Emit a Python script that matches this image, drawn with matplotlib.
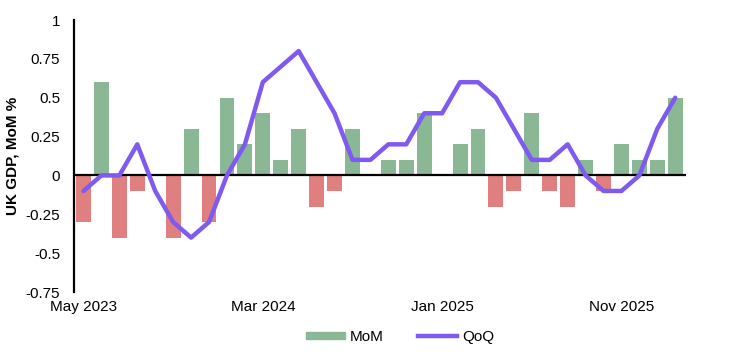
import matplotlib
matplotlib.use("Agg")
import matplotlib.pyplot as plt
import numpy as np
from matplotlib.lines import Line2D
from matplotlib.patches import Patch

plt.rcParams['font.family'] = ['Liberation Sans', 'DejaVu Sans']

months = ["May 2023", "Jun 2023", "Jul 2023", "Aug 2023", "Sep 2023", "Oct 2023",
          "Nov 2023", "Dec 2023", "Jan 2024", "Feb 2024", "Mar 2024", "Apr 2024",
          "May 2024", "Jun 2024", "Jul 2024", "Aug 2024", "Sep 2024", "Oct 2024",
          "Nov 2024", "Dec 2024", "Jan 2025", "Feb 2025", "Mar 2025", "Apr 2025",
          "May 2025", "Jun 2025", "Jul 2025", "Aug 2025", "Sep 2025", "Oct 2025",
          "Nov 2025", "Dec 2025", "Jan 2026", "Feb 2026"]
mom = [-0.3, 0.6, -0.4, -0.1, 0.0, -0.4, 0.3, -0.3, 0.5, 0.2,
       0.4, 0.1, 0.3, -0.2, -0.1, 0.3, 0.0, 0.1, 0.1, 0.4,
       0.0, 0.2, 0.3, -0.2, -0.1, 0.4, -0.1, -0.2, 0.1, -0.1,
       0.2, 0.1, 0.1, 0.5]
qoq = [-0.1, 0.0, 0.0, 0.2, -0.1, -0.3, -0.4, -0.3, 0.0, 0.2,
       0.6, 0.7, 0.8, 0.6, 0.4, 0.1, 0.1, 0.2, 0.2, 0.4,
       0.4, 0.6, 0.6, 0.5, 0.3, 0.1, 0.1, 0.2, 0.0, -0.1,
       -0.1, 0.0, 0.3, 0.5]
tick_labels = ["May 2023", "Mar 2024", "Jan 2025", "Nov 2025"]
yticks = [-0.75, -0.5, -0.25, 0, 0.25, 0.5, 0.75, 1]
ytick_labels = ["-0.75", "-0.5", "-0.25", "0", "0.25", "0.5", "0.75", "1"]

green = "#8AB794"
red = "#E07F7F"
purple = "#7F5AF0"

fig = plt.figure(figsize=(7.29, 3.52), dpi=100)
ax = fig.add_axes([74/729, 1-292/352, (686-74)/729, (292-20)/352])

x = np.arange(len(months))
colors = [green if v >= 0 else red for v in mom]
ax.bar(x, mom, width=0.83, color=colors, zorder=2)
ax.axhline(0, color="black", lw=1.6, zorder=3)
ax.plot(x, qoq, color=purple, lw=3.2, zorder=4, solid_capstyle='round', solid_joinstyle='round')

ax.set_xlim(-0.53, 33.6)
ax.set_ylim(-0.75, 1)
ax.set_yticks(yticks)
ax.set_yticklabels(ytick_labels, fontsize=11)
ax.set_xticks([months.index(t) for t in tick_labels])
ax.set_xticklabels(tick_labels, fontsize=11)
ax.tick_params(axis='both', length=0, pad=6)
ax.tick_params(axis='y', pad=10)
for s in ["top", "right", "bottom"]:
    ax.spines[s].set_visible(False)
ax.spines["left"].set_linewidth(1.6)
ax.set_ylabel("UK GDP, MoM %", fontsize=11, fontweight="bold", labelpad=4)

handles = [Patch(color=green, label="MoM"), Line2D([0], [0], color=purple, lw=3.2, label="QoQ")]
fig.legend(handles=handles, loc="center", bbox_to_anchor=(400/729, 1-337/352), ncol=2,
           frameon=False, fontsize=11, handlelength=2.55, handleheight=0.4, columnspacing=2.3,
           handletextpad=0.3)

fig.savefig("out.png", dpi=100)
